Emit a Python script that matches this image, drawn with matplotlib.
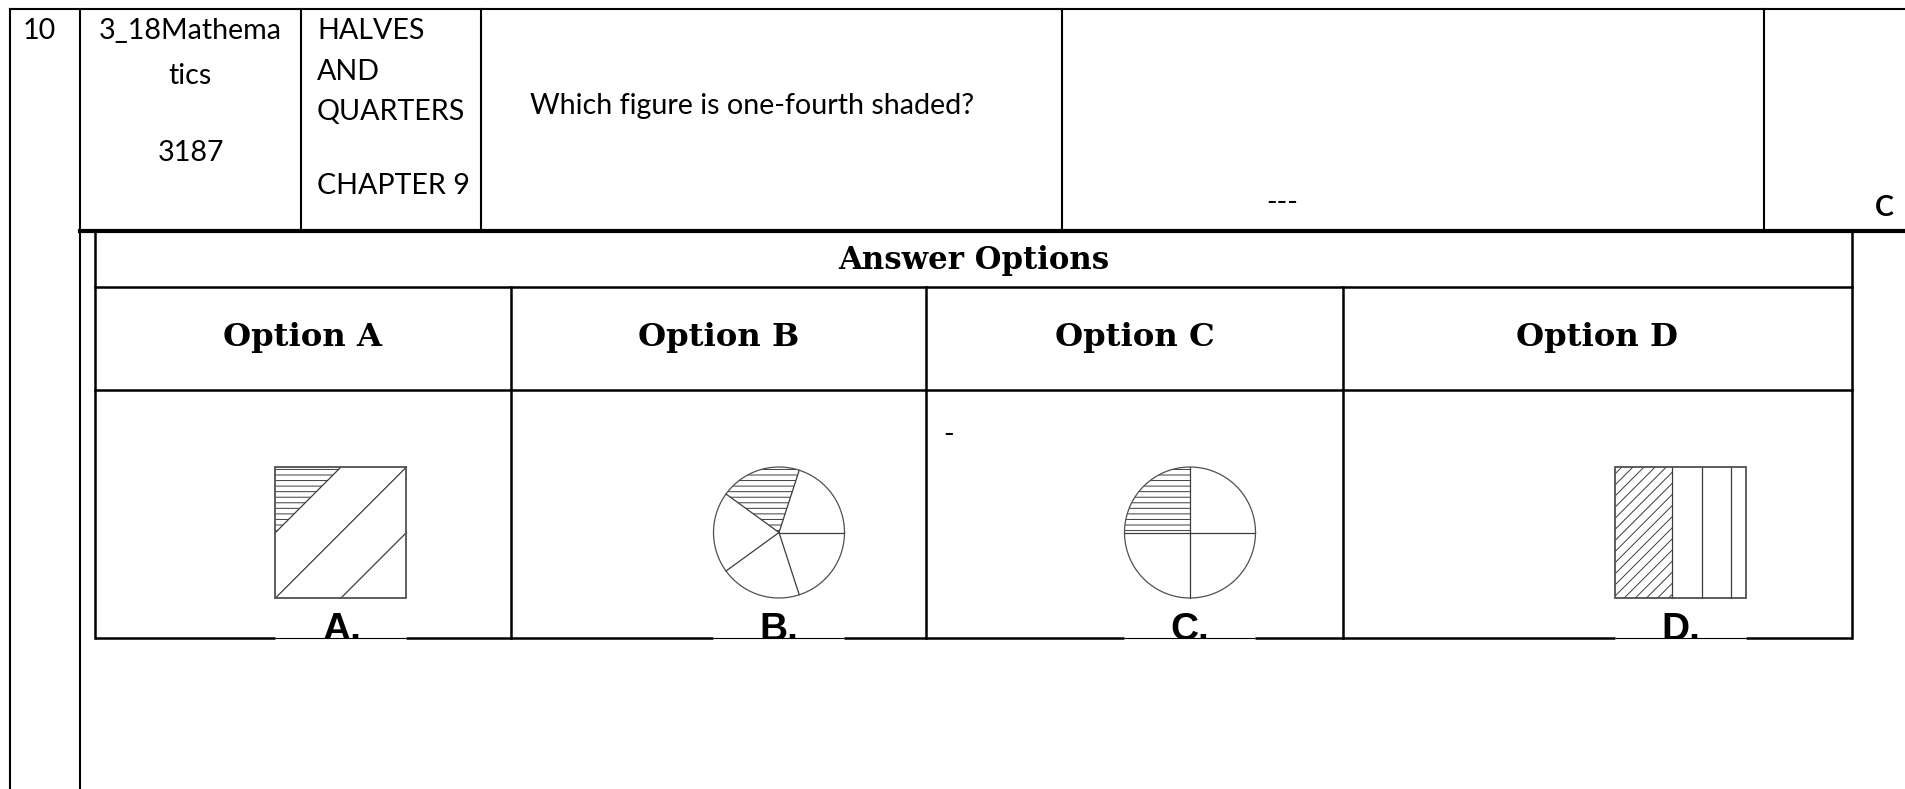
import numpy as np
import matplotlib
matplotlib.use('Agg')
import matplotlib.pyplot as plt
from matplotlib.patches import Polygon, Wedge, Rectangle

# ---- content of the row ----
row_number = "10"
subject_lines = ["3_18Mathema", "tics", "3187"]
chapter_lines = ["HALVES", "AND", "QUARTERS", "CHAPTER 9"]
question = "Which figure is one-fourth shaded?"
answer_text = "---"
answer_key = "C"
table_title = "Answer Options"
option_names = ["Option A", "Option B", "Option C", "Option D"]
figure_labels = ["A.", "B.", "C.", "D."]
stray_mark = "-"

# figure A: unit square cut by lines x+y=c (y measured downward), first piece shaded
square_cuts = [0.5, 1.0, 1.5]
# figure B / C: circle split into parts (counter-clockwise from 3 o'clock)
pie_b_parts = [1, 1, 1, 1, 1]
pie_b_shaded = 1
pie_c_parts = [1, 1, 1, 1]
pie_c_shaded = 1
# figure D: vertical strips of a square, left to right
strip_d_widths = [0.43, 0.23, 0.22, 0.12]
strip_d_shaded = 0

plt.rcParams['hatch.linewidth'] = 0.7

W, H = 1906, 789
fig = plt.figure(figsize=(W / 100, H / 100), dpi=100)
ax = fig.add_axes([0, 0, 1, 1])
ax.set_xlim(0, W)
ax.set_ylim(H, 0)
ax.axis('off')
renderer = fig.canvas.get_renderer()


def text_width(s, **kw):
    t = ax.text(0, 0, s, **kw)
    w = t.get_window_extent(renderer=renderer).width
    t.remove()
    return w


def seg(x0, y0, x1, y1, lw, color='black', z=5):
    ax.plot([x0, x1], [y0, y1], color=color, lw=lw, solid_capstyle='projecting', zorder=z)


# ---- layout (pixels) ----
top_y, head_y = 9, 231
col_x = [10, 80, 301, 481, 1062, 1764]
in_l, in_r, in_b = 95, 1852, 638
row1_y, row2_y = 287, 390
opt_x = [in_l, 511, 926, 1343, in_r]
fig_top, fig_side = 467, 131
fig_cx = [341, 779, 1190, 1681]
label_base = 640

outer, thick, inner = 1.5, 3.0, 1.8

# outer question table
seg(col_x[0], top_y, W + 5, top_y, outer)
seg(col_x[0], top_y, col_x[0], H + 5, outer)
seg(col_x[1], top_y, col_x[1], H + 5, outer)
for x in col_x[2:]:
    seg(x, top_y, x, head_y, outer)
seg(col_x[1], head_y, W + 5, head_y, thick)

# texts of the question row
reg = dict(family='Lato', color='black')
s_reg = 18.5 * 0.5 * (197 / text_width(subject_lines[0], fontsize=18.5, **reg)
                      + 413 / text_width(question, fontsize=18.5, **reg))
ax.text(23, 39, row_number, fontsize=s_reg, va='baseline', ha='left', **reg)
for s, yb in zip(subject_lines, [39, 84, 161]):
    ax.text((col_x[1] + col_x[2]) / 2, yb, s, fontsize=s_reg, va='baseline', ha='center', **reg)
for s, yb in zip(chapter_lines, [39, 80, 120, 194]):
    ax.text(317, yb, s, fontsize=s_reg, va='baseline', ha='left', **reg)
ax.text(530, 114, question, fontsize=s_reg, va='baseline', ha='left', **reg)
ax.text(1266, 211, answer_text, fontsize=s_reg, va='baseline', ha='left', **reg)
ax.text(1875, 216, answer_key, fontsize=s_reg, va='baseline', ha='left',
        family='Lato', weight='bold')

# answer options table
seg(in_l, head_y, in_l, in_b, inner)
seg(in_r, head_y, in_r, in_b, inner)
seg(in_l, row1_y, in_r, row1_y, inner)
seg(in_l, row2_y, in_r, row2_y, inner)
for x in opt_x[1:-1]:
    seg(x, row1_y, x, in_b, inner)

serif = dict(family='DejaVu Serif', weight='bold', color='black')
s_serif = 20 * 271 / text_width(table_title, fontsize=20, **serif)
ax.text((in_l + in_r) / 2, 269, table_title, fontsize=s_serif, va='baseline', ha='center', **serif)
for i, name in enumerate(option_names):
    ax.text((opt_x[i] + opt_x[i + 1]) / 2, 346, name, fontsize=s_serif * 1.05,
            va='baseline', ha='center', **serif)
ax.text(943, 443, stray_mark, fontsize=s_reg, va='baseline', ha='left', **reg)

# ---- the four pictures ----
line_c, edge_c = '#3c3c3c', '#505050'
fig_lw = 0.9

# A: square with diagonal cuts
x0, y0, sd = fig_cx[0] - fig_side / 2, fig_top, fig_side
first = square_cuts[0]
tri = [(x0, y0), (x0 + first * sd, y0), (x0, y0 + first * sd)]
ax.add_patch(Polygon(tri, closed=True, facecolor='white', edgecolor=line_c, lw=0,
                     hatch='---', zorder=3))
for c in square_cuts:
    a = (max(0, c - 1), min(1, c))
    b = (min(1, c), max(0, c - 1))
    ax.plot([x0 + a[0] * sd, x0 + b[0] * sd], [y0 + a[1] * sd, y0 + b[1] * sd],
            color=line_c, lw=fig_lw, zorder=4)
ax.add_patch(Rectangle((x0, y0), sd, sd, fill=False, edgecolor=edge_c, lw=1.3, zorder=4))


# B and C: circles
def pie(cx, parts, shaded):
    r = fig_side / 2
    cy = fig_top + r
    bounds = np.concatenate([[0], np.cumsum(parts)]) / np.sum(parts) * 360
    a1, a2 = bounds[shaded], bounds[shaded + 1]
    ax.add_patch(Wedge((cx, cy), r, -a2, -a1, facecolor='white', edgecolor=line_c,
                       lw=0, hatch='---', zorder=3))
    for a in bounds[:-1]:
        t = np.deg2rad(a)
        ax.plot([cx, cx + r * np.cos(t)], [cy, cy - r * np.sin(t)],
                color=line_c, lw=fig_lw, zorder=4)
    th = np.linspace(0, 2 * np.pi, 200)
    ax.plot(cx + r * np.cos(th), cy + r * np.sin(th), color=edge_c, lw=fig_lw, zorder=4)


pie(fig_cx[1], pie_b_parts, pie_b_shaded)
pie(fig_cx[2], pie_c_parts, pie_c_shaded)

# D: vertical strips
x0 = fig_cx[3] - fig_side / 2
edges = np.concatenate([[0], np.cumsum(strip_d_widths)]) / np.sum(strip_d_widths) * fig_side + x0
ax.add_patch(Rectangle((edges[strip_d_shaded], fig_top),
                       edges[strip_d_shaded + 1] - edges[strip_d_shaded], fig_side,
                       facecolor='white', edgecolor=line_c, lw=0, hatch='///', zorder=3))
for e in edges[1:-1]:
    ax.plot([e, e], [fig_top, fig_top + fig_side], color=line_c, lw=fig_lw, zorder=4)
ax.add_patch(Rectangle((x0, fig_top), fig_side, fig_side, fill=False, edgecolor=edge_c,
                       lw=1.3, zorder=4))

# labels under the pictures, cut off by the table border
for cx, lab in zip(fig_cx, figure_labels):
    ax.text(cx, label_base, lab, fontsize=28, family='Liberation Sans', weight='bold',
            va='baseline', ha='center', zorder=2)
    ax.add_patch(Rectangle((cx - fig_side / 2 - 2, in_b + 0.5), fig_side + 4, 40,
                           facecolor='white', edgecolor='none', zorder=2.5))

# bottom border: heavy between pictures, thin where the pictures sit on it
pic_l = [cx - fig_side / 2 for cx in fig_cx]
pic_r = [cx + fig_side / 2 for cx in fig_cx]
starts = [in_l] + pic_r
ends = pic_l + [in_r]
for a, b in zip(starts, ends):
    ax.plot([a, b], [in_b, in_b], color='black', lw=inner, solid_capstyle='butt', zorder=5)
for a, b in zip(pic_l, pic_r):
    ax.plot([a, b], [in_b, in_b], color='black', lw=0.8, solid_capstyle='butt', zorder=5)

fig.savefig('out.png', dpi=100, facecolor='white')
